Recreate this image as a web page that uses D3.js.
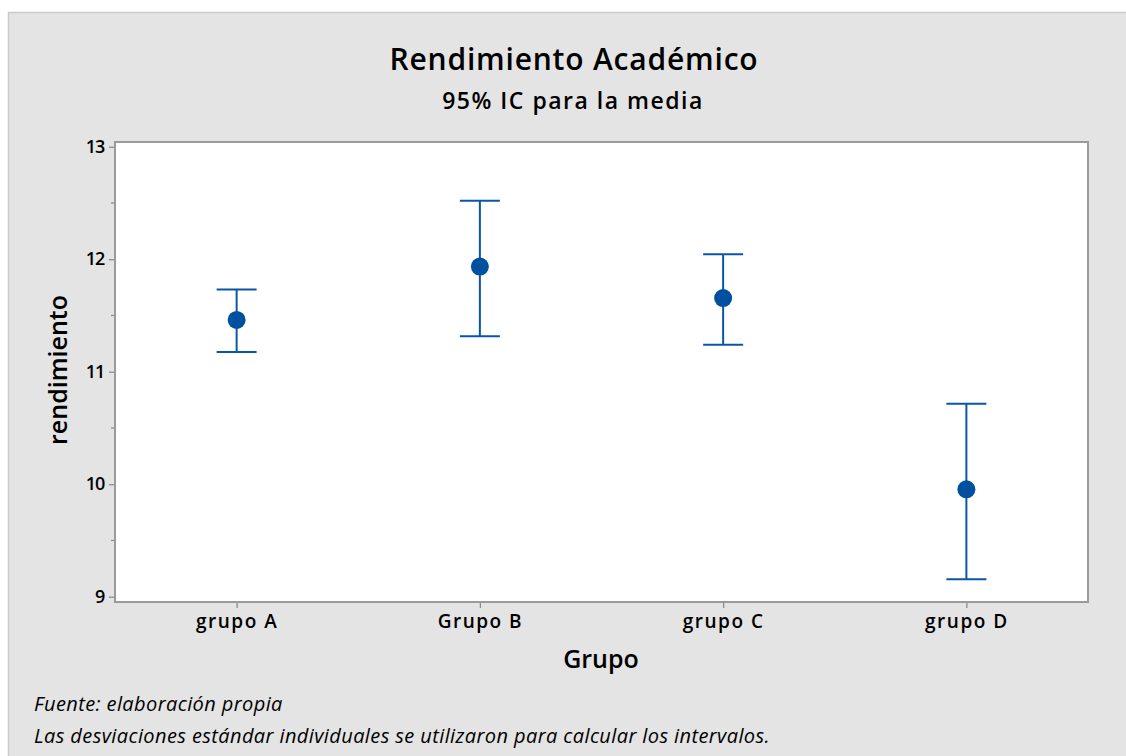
<!DOCTYPE html>
<html>
<head>
<meta charset="utf-8">
<script src="https://cdn.jsdelivr.net/npm/d3@7"></script>
<style>
  html, body { margin: 0; padding: 0; background: #ffffff; }
  svg { display: block; }
  text { font-family: "Open Sans", "Noto Sans", sans-serif; fill: #000; }
</style>
</head>
<body>
<svg id="chart" width="1126" height="756"></svg>
<script>
// Group means with their 95% confidence limits
const groups = ["grupo A", "Grupo B", "grupo C", "grupo D"];
const means = [11.46, 11.935, 11.655, 9.955];
const lower = [11.175, 11.315, 11.24, 9.155];
const upper = [11.73, 12.52, 12.045, 10.715];
const yTicks = [9, 10, 11, 12, 13];
const yMinorTicks = [9.5, 10.5, 11.5, 12.5];

const svg = d3.select("#chart");
const W = 1126, H = 756;
const plot = { left: 115, right: 1088, top: 142, bottom: 602 };

// Panel background
svg.append("rect")
  .attr("x", 8.5).attr("y", 12.5)
  .attr("width", W).attr("height", H)
  .attr("fill", "#e4e4e4")
  .attr("stroke", "#cbcbcb").attr("stroke-width", 1.5);

// Plot area
svg.append("rect")
  .attr("x", plot.left).attr("y", plot.top)
  .attr("width", plot.right - plot.left).attr("height", plot.bottom - plot.top)
  .attr("fill", "#ffffff");

const x = d3.scalePoint().domain(groups).range([plot.left, plot.right]).padding(0.5);
const y = d3.scaleLinear().domain([8.953, 13.042]).range([plot.bottom, plot.top]);

// Y axis
const yAxis = svg.append("g").attr("transform", `translate(${plot.left},0)`)
  .call(d3.axisLeft(y).tickValues(yTicks).tickFormat(d3.format("d")).tickSize(6).tickPadding(5));
yAxis.select(".domain").remove();
yAxis.selectAll(".tick line").attr("stroke", "#8c8c8c").attr("stroke-width", 1.3);
yAxis.selectAll(".tick text").attr("font-size", 18).attr("font-weight", 600).attr("letter-spacing", -1.2);

svg.append("g").selectAll("line").data(yMinorTicks).join("line")
  .attr("x1", plot.left - 4).attr("x2", plot.left)
  .attr("y1", d => y(d)).attr("y2", d => y(d))
  .attr("stroke", "#8c8c8c").attr("stroke-width", 1.3);

// X axis
const xAxis = svg.append("g").attr("transform", `translate(0,${plot.bottom})`)
  .call(d3.axisBottom(x).tickSize(6).tickPadding(7));
xAxis.select(".domain").remove();
xAxis.selectAll(".tick line").attr("stroke", "#8c8c8c").attr("stroke-width", 1.3);
xAxis.selectAll(".tick text").attr("font-size", 19).attr("font-weight", 600).attr("letter-spacing", 1.5);

// Plot frame
svg.append("rect")
  .attr("x", plot.left).attr("y", plot.top)
  .attr("width", plot.right - plot.left).attr("height", plot.bottom - plot.top)
  .attr("fill", "none").attr("stroke", "#9a9a9a").attr("stroke-width", 2);

// Interval bars
const blue = "#0a56a6";
const capHalf = 20;
const data = groups.map((g, i) => ({ g, m: means[i], lo: lower[i], hi: upper[i] }));
const bars = svg.append("g");
bars.selectAll(".stem").data(data).join("line")
  .attr("x1", d => x(d.g)).attr("x2", d => x(d.g))
  .attr("y1", d => y(d.lo)).attr("y2", d => y(d.hi))
  .attr("stroke", blue).attr("stroke-width", 2);
bars.selectAll(".capHi").data(data).join("line")
  .attr("x1", d => x(d.g) - capHalf).attr("x2", d => x(d.g) + capHalf)
  .attr("y1", d => y(d.hi)).attr("y2", d => y(d.hi))
  .attr("stroke", blue).attr("stroke-width", 2);
bars.selectAll(".capLo").data(data).join("line")
  .attr("x1", d => x(d.g) - capHalf).attr("x2", d => x(d.g) + capHalf)
  .attr("y1", d => y(d.lo)).attr("y2", d => y(d.lo))
  .attr("stroke", blue).attr("stroke-width", 2);
bars.selectAll("circle").data(data).join("circle")
  .attr("cx", d => x(d.g)).attr("cy", d => y(d.m)).attr("r", 9)
  .attr("fill", "#0050a0");

// Titles
svg.append("text").attr("x", 574).attr("y", 70).attr("text-anchor", "middle")
  .attr("font-size", 30).attr("font-weight", 600).attr("letter-spacing", 0.8)
  .text("Rendimiento Académico");
svg.append("text").attr("x", 573).attr("y", 109).attr("text-anchor", "middle")
  .attr("font-size", 23).attr("font-weight", 600).attr("letter-spacing", 1.5)
  .text("95% IC para la media");

// Axis titles
svg.append("text").attr("x", 601).attr("y", 668).attr("text-anchor", "middle")
  .attr("font-size", 25).attr("font-weight", 600).text("Grupo");
svg.append("text").attr("transform", "translate(67,370) rotate(-90)").attr("text-anchor", "middle")
  .attr("font-size", 25).attr("font-weight", 600).text("rendimiento");

// Footnotes
svg.append("text").attr("x", 34).attr("y", 711)
  .attr("font-size", 20).attr("font-style", "italic").attr("letter-spacing", 0.4)
  .text("Fuente: elaboración propia");
svg.append("text").attr("x", 34).attr("y", 743)
  .attr("font-size", 20).attr("font-style", "italic").attr("letter-spacing", 0.4)
  .text("Las desviaciones estándar individuales se utilizaron para calcular los intervalos.");
</script>
</body>
</html>
